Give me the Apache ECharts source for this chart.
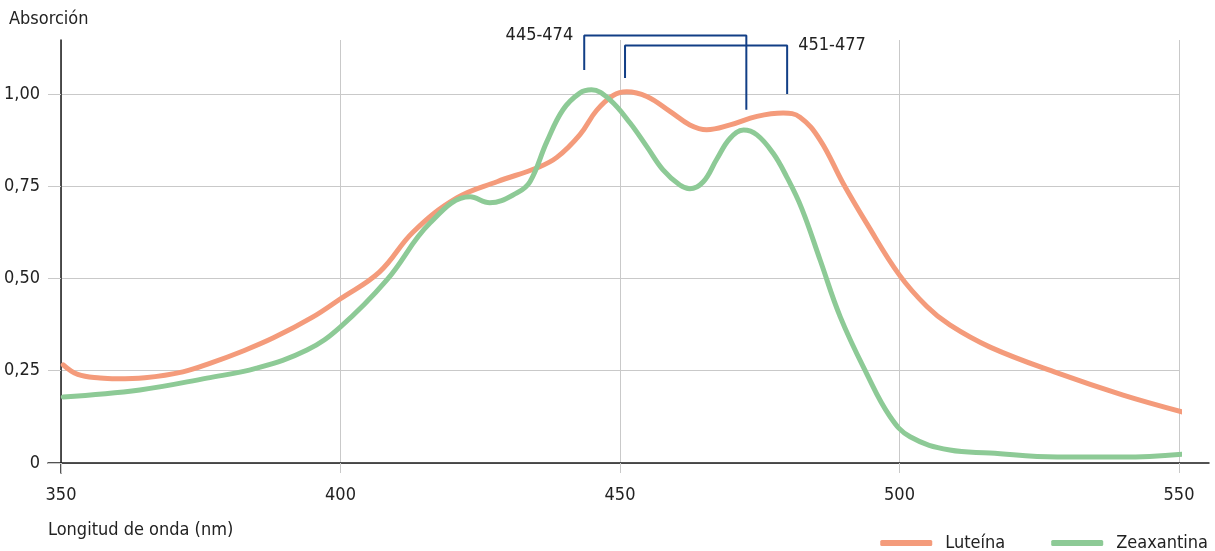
<!DOCTYPE html>
<html>
<head>
<meta charset="utf-8">
<script src="https://cdn.jsdelivr.net/npm/echarts@6/dist/echarts.min.js"></script>
<style>
  html, body { margin: 0; padding: 0; background: #fff; }
  #chart { width: 1215px; height: 551px; }
</style>
</head>
<body>
<div id="chart"></div>
<script>
// longitud de onda (nm) y absorción
var luteinaX = [350.4, 353, 357, 360, 365, 371.8, 377, 382, 388, 395, 400, 407, 413, 420.8, 428, 435.2, 438.7, 442.8, 445.8, 448.8, 451.2, 454.8, 459, 462.5, 465.5, 469.7, 474.5, 479.2, 482.2, 485.8, 489.9, 494.1, 500, 504.9, 509, 516.2, 528.2, 540, 550.7];
var luteinaY = [0.266, 0.240, 0.230, 0.228, 0.231, 0.247, 0.272, 0.300, 0.339, 0.395, 0.445, 0.518, 0.626, 0.718, 0.762, 0.800, 0.828, 0.889, 0.955, 0.996, 1.006, 0.993, 0.952, 0.916, 0.903, 0.916, 0.939, 0.948, 0.937, 0.875, 0.758, 0.650, 0.509, 0.424, 0.374, 0.314, 0.244, 0.184, 0.138];

var zeaxX = [350.4, 364.1, 376.1, 385, 394, 400, 408.3, 416, 423.2, 426.7, 431.6, 433.9, 436.9, 439.8, 442.8, 444.9, 448.2, 451.8, 454.8, 457.7, 460.7, 462.5, 464.9, 467.3, 469.7, 472.1, 474.5, 477.4, 479.8, 482.5, 485.8, 489.4, 494.1, 498.3, 501.9, 509, 516.2, 528.2, 540, 550.7];
var zeaxY = [0.179, 0.198, 0.230, 0.257, 0.306, 0.369, 0.496, 0.650, 0.721, 0.705, 0.732, 0.762, 0.870, 0.957, 1.002, 1.011, 0.984, 0.921, 0.857, 0.794, 0.753, 0.743, 0.762, 0.823, 0.880, 0.902, 0.889, 0.839, 0.776, 0.690, 0.550, 0.396, 0.243, 0.126, 0.071, 0.035, 0.027, 0.016, 0.016, 0.024];

// corchetes de los máximos
var bracketZeaxX = [443.6, 443.6, 472.6, 472.6];
var bracketZeaxY = [1.065, 1.158, 1.158, 0.957];
var bracketLutX = [450.9, 450.9, 479.9, 479.9];
var bracketLutY = [1.043, 1.131, 1.131, 1.0];
var bracketLabels = ['445-474', '451-477'];

var yTicks = [0, 0.25, 0.5, 0.75, 1.0];
var yLabels = ['0', '0,25', '0,50', '0,75', '1,00'];

var FONT = '"Liberation Sans Narrow", "DejaVu Sans Condensed", "Roboto", sans-serif';
var FS = 18;
var INK = '#222222';
var GRID_COLOR = '#c9c9c9';
var AXIS_COLOR = '#1a1a1a';
var BRACKET_COLOR = '#123f86';

function zip(xs, ys) {
  return xs.map(function (x, i) { return [x, ys[i]]; });
}

function bracketData(xs, ys, labelIdx, text, pos) {
  return zip(xs, ys).map(function (p, i) {
    if (i !== labelIdx) return p;
    return {
      value: p,
      label: {
        show: true, position: pos, distance: 11, formatter: text,
        color: INK, fontFamily: FONT, fontSize: FS
      }
    };
  });
}

var chart = echarts.init(document.getElementById('chart'));
chart.setOption({
  backgroundColor: '#ffffff',
  animation: false,
  textStyle: { fontFamily: FONT },
  title: [
    { text: 'Absorción', left: 9, top: 10, padding: 0,
      textStyle: { fontFamily: FONT, fontSize: FS, fontWeight: 'normal', color: INK } },
    { text: 'Longitud de onda (nm)', left: 48, top: 521, padding: 0,
      textStyle: { fontFamily: FONT, fontSize: FS, fontWeight: 'normal', color: INK } }
  ],
  legend: {
    data: ['Luteína', 'Zeaxantina'],
    right: 7,
    top: 534,
    padding: 0,
    icon: 'roundRect',
    itemWidth: 52,
    itemHeight: 6,
    itemGap: 46,
    textStyle: { fontFamily: FONT, fontSize: FS, color: INK, padding: [0, 0, 0, 8] }
  },
  grid: [
    { left: 61, right: 36, top: 40, bottom: 88 },   // principal
    { left: 48, right: 6, top: 40, bottom: 88 },    // prolongación del eje x
    { left: 61, right: 36, top: 40, bottom: 78 }    // prolongación del eje y
  ],
  xAxis: [
    {
      gridIndex: 0, type: 'value', min: 350, max: 550, interval: 50,
      axisLine: { show: false },
      axisTick: { show: true, length: 10, lineStyle: { color: GRID_COLOR } },
      axisLabel: { margin: 23, fontSize: FS, color: INK, fontFamily: FONT },
      splitLine: { show: true, lineStyle: { color: GRID_COLOR, width: 1 } }
    },
    {
      gridIndex: 1, type: 'value', min: 0, max: 1,
      axisLine: { show: true, lineStyle: { color: AXIS_COLOR, width: 1.5 } },
      axisTick: { show: false }, axisLabel: { show: false }, splitLine: { show: false }
    },
    { gridIndex: 2, type: 'value', show: false }
  ],
  yAxis: [
    {
      gridIndex: 0, type: 'value', min: 0, max: 1.146, interval: 0.25,
      axisLine: { show: false },
      axisTick: { show: true, length: 13, customValues: yTicks, lineStyle: { color: GRID_COLOR } },
      axisLabel: {
        margin: 21, fontSize: FS, color: INK, fontFamily: FONT,
        customValues: yTicks,
        formatter: function (v) {
          var i = yTicks.indexOf(Math.round(v * 100) / 100);
          return i < 0 ? '' : yLabels[i];
        }
      },
      splitLine: { show: true, lineStyle: { color: GRID_COLOR, width: 1 } }
    },
    { gridIndex: 1, type: 'value', show: false },
    {
      gridIndex: 2, type: 'value', min: 0, max: 1,
      axisLine: { show: true, lineStyle: { color: AXIS_COLOR, width: 1.5 } },
      axisTick: { show: false }, axisLabel: { show: false }, splitLine: { show: false }
    }
  ],
  series: [
    {
      name: 'Luteína', type: 'line', xAxisIndex: 0, yAxisIndex: 0,
      data: zip(luteinaX, luteinaY), smooth: 0.4,
      showSymbol: false, symbol: 'none',
      color: '#f49b7b',
      lineStyle: { width: 5, color: '#f49b7b', cap: 'round' }, z: 3
    },
    {
      name: 'Zeaxantina', type: 'line', xAxisIndex: 0, yAxisIndex: 0,
      data: zip(zeaxX, zeaxY), smooth: 0.4,
      showSymbol: false, symbol: 'none',
      color: '#8dca96',
      lineStyle: { width: 5, color: '#8dca96', cap: 'round' }, z: 4
    },
    {
      name: 'b1', type: 'line', xAxisIndex: 0, yAxisIndex: 0, clip: false, silent: true,
      data: bracketData(bracketZeaxX, bracketZeaxY, 1, bracketLabels[0], 'left'),
      symbol: 'circle', symbolSize: 0, showSymbol: true,
      lineStyle: { width: 2, color: BRACKET_COLOR }, itemStyle: { color: BRACKET_COLOR }, z: 5
    },
    {
      name: 'b2', type: 'line', xAxisIndex: 0, yAxisIndex: 0, clip: false, silent: true,
      data: bracketData(bracketLutX, bracketLutY, 2, bracketLabels[1], 'right'),
      symbol: 'circle', symbolSize: 0, showSymbol: true,
      lineStyle: { width: 2, color: BRACKET_COLOR }, itemStyle: { color: BRACKET_COLOR }, z: 5
    }
  ]
});
</script>
</body>
</html>
